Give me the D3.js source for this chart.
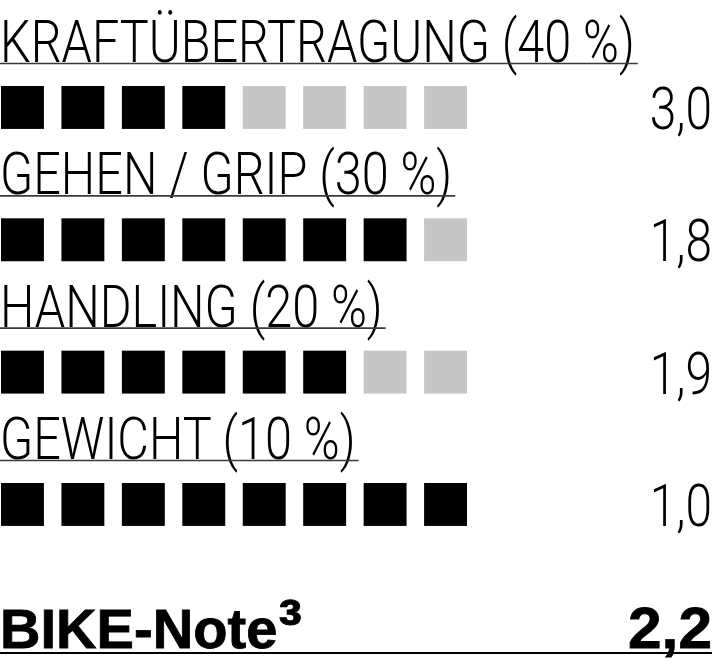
<!DOCTYPE html>
<html>
<head>
<meta charset="utf-8">
<script src="https://cdn.jsdelivr.net/npm/d3@7"></script>
<style>
  html, body { margin: 0; padding: 0; background: #fff; overflow: hidden; }
</style>
</head>
<body>
<div id="chart"></div>
<script>
'use strict';

// data
const categories = ['KRAFTÜBERTRAGUNG', 'GEHEN / GRIP', 'HANDLING', 'GEWICHT'];
const weights = ['40 %', '30 %', '20 %', '10 %'];
const scores = ['3,0', '1,8', '1,9', '1,0'];
const filled = [4, 7, 6, 8];
const slots = [0, 1, 2, 3, 4, 5, 6, 7];
const totalLabel = 'BIKE-Note';
const totalMark = '³';
const totalScore = '2,2';

const colors = {
  on: '#000',
  off: '#c6c6c6',
  rule: '#3a3a3a'
};

const width = 712, height = 669;
const condense = 0.81;   // horizontal squeeze to get the condensed look
const widen = 1.06;      // bold score is a touch wider

function drawCard() {
  const svg = d3.select('#chart').append('svg')
    .attr('width', width)
    .attr('height', height);

  // row baseline for each category title
  const y = d3.scalePoint().domain(categories).range([63, 460]);
  // square positions along the row
  const x = d3.scaleBand().domain(slots).range([1, 467])
    .paddingInner(0.29).paddingOuter(0);

  const rows = svg.selectAll('.row')
    .data(categories.map((c, i) => ({ name: c, weight: weights[i], score: scores[i], on: filled[i] })))
    .enter().append('g')
    .attr('class', 'row')
    .attr('transform', d => 'translate(0,' + y(d.name) + ')');

  const titles = rows.append('text')
    .attr('class', 'title')
    .attr('x', 0)
    .attr('y', -1)
    .attr('transform', 'scale(' + condense + ',1)')
    .style('font-family', 'Roboto, "Liberation Sans Narrow", sans-serif')
    .style('font-weight', 300)
    .style('font-size', '60px')
    .attr('fill', '#000')
    .text(d => d.name + ' (' + d.weight + ')');

  // underline ends a little past the closing bracket
  rows.append('line')
    .attr('x1', 0)
    .attr('x2', function (d, i) {
      return titles.nodes()[i].getBBox().width * condense + 3;
    })
    .attr('y1', 0.5).attr('y2', 0.5)
    .attr('stroke', colors.rule)
    .attr('stroke-width', 1.6);

  rows.selectAll('.sq')
    .data(d => slots.map(s => ({ s: s, on: s < d.on })))
    .enter().append('rect')
    .attr('class', 'sq')
    .attr('x', d => x(d.s))
    .attr('y', 23)
    .attr('width', x.bandwidth())
    .attr('height', x.bandwidth())
    .attr('fill', d => d.on ? colors.on : colors.off);

  rows.append('text')
    .attr('x', width / condense)
    .attr('y', 66)
    .attr('transform', 'scale(' + condense + ',1)')
    .attr('text-anchor', 'end')
    .style('font-family', 'Roboto, "Liberation Sans Narrow", sans-serif')
    .style('font-weight', 300)
    .style('font-size', '59px')
    .attr('fill', '#000')
    .text(d => d.score);

  // total line
  const foot = svg.append('g').attr('transform', 'translate(0,653)');
  foot.append('line')
    .attr('x1', 0).attr('x2', width)
    .attr('y1', 0).attr('y2', 0)
    .attr('stroke', '#000')
    .attr('stroke-width', 2);
  const label = foot.append('text')
    .attr('x', 0)
    .attr('y', -5)
    .attr('transform', 'scale(1.02,1)')
    .style('font-family', '"Liberation Sans", Arial, sans-serif')
    .style('font-weight', 700)
    .style('font-size', '55px')
    .attr('fill', '#000')
    .attr('stroke', '#000')
    .attr('stroke-width', 0.8)
    .text(totalLabel);
  label.append('tspan')
    .attr('dx', 1)
    .style('font-size', '70px')
    .text(totalMark);
  foot.append('text')
    .attr('x', width / widen)
    .attr('y', -5)
    .attr('transform', 'scale(' + widen + ',1)')
    .attr('text-anchor', 'end')
    .style('font-family', '"Liberation Sans", Arial, sans-serif')
    .style('font-weight', 700)
    .style('font-size', '57px')
    .attr('fill', '#000')
    .attr('stroke', '#000')
    .attr('stroke-width', 0.8)
    .text(totalScore);
}

drawCard();
</script>
</body>
</html>
